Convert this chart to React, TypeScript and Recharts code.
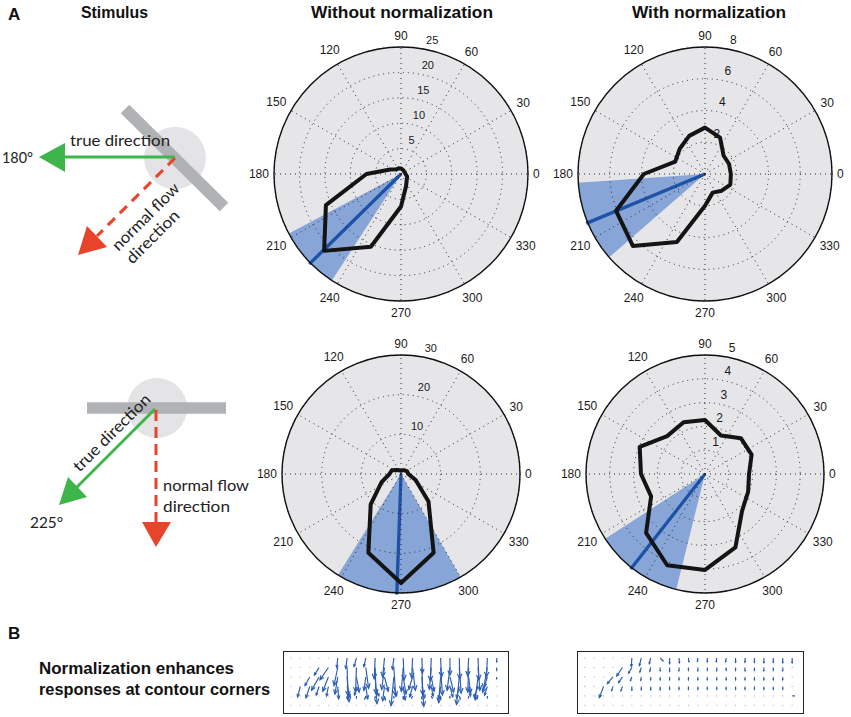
import React from 'react';
import {
  RadarChart, Radar, PolarGrid, PolarAngleAxis, PolarRadiusAxis,
  PieChart, Pie, ScatterChart, Scatter, XAxis, YAxis,
} from 'recharts';

// ---------------- data ----------------
const directions = [0, 22.5, 45, 67.5, 90, 112.5, 135, 157.5, 180, 202.5, 225, 247.5, 270, 292.5, 315, 337.5];
const angleTicks = [0, 30, 60, 90, 120, 150, 180, 210, 240, 270, 300, 330];

// stimulus moving at 180 deg
const resp180Without = [0.9, 0.8, 0.8, 0.9, 1.1, 1.2, 1.3, 2.3, 6.8, 16.0, 21.4, 15.5, 6.4, 2.6, 1.6, 1.3];
const resp180With = [1.63, 1.64, 1.65, 2.48, 2.92, 2.6, 2.25, 2.03, 3.85, 6.06, 6.42, 4.63, 2.0, 1.27, 1.49, 1.73];
// stimulus moving at 225 deg
const resp225Without = [1.85, 1.7, 1.3, 1.0, 0.8, 1.0, 1.4, 2.5, 2.9, 5.3, 10.8, 21.5, 27.5, 21.5, 9.8, 4.0];
const resp225With = [1.85, 2.12, 2.13, 1.75, 2.27, 2.35, 2.25, 2.97, 2.69, 2.45, 3.5, 4.15, 4.03, 3.34, 2.2, 1.96];

const rings180Without = [5, 10, 15, 20, 25];
const rings180With = [2, 4, 6, 8];
const rings225Without = [10, 20, 30];
const rings225With = [1, 2, 3, 4, 5];

// order: 180 without, 180 with, 225 without, 225 with
const meanDirections = [224.5, 202.6, 268, 232];
const spreadStart = [208, 184, 238, 213];
const spreadEnd = [237, 221, 300, 256];

// quiver fields (rows top->bottom, 23 columns); u = rightward, v = downward (grid units)
const quiverWithoutU = [
  [0, 0, 0, 0, 0, -0.1, -0.15, -0.25, -0.2, -0.1, -0.2, -0.15, 0.1, -0.1, 0.05, -0.1, 0.1, 0, 0.05, -0.1, 0.1, -0.1, 0],
  [0, 0, 0, -0.5, -0.9, -0.4, 0.1, -0.1, 0.3, 0.1, -0.3, 0.2, -0.2, 0.3, 0.1, -0.2, 0.2, -0.3, 0.2, -0.1, 0.2, -0.4, 0],
  [0, 0, -0.5, -0.8, -0.6, -0.3, 0.2, 0.3, -0.2, 0.2, 0.4, -0.3, 0.3, -0.4, 0.2, 0.3, -0.2, 0.4, -0.3, 0.2, -0.3, -0.5, 0],
  [0, -0.3, -0.4, -0.3, -0.2, 0.1, 0.3, -0.2, 0.2, 0.4, -0.2, 0.3, 0.2, -0.3, 0.3, 0.2, -0.2, 0.3, -0.3, 0.2, -0.4, -0.3, 0],
  [0, 0, 0, 0, 0, 0, 0.1, 0, -0.1, 0, 0.1, 0, 0, -0.1, 0, 0.1, 0, 0, 0.1, 0, -0.1, 0, 0],
  [0, 0, 0, 0, 0, 0, 0, 0, 0, 0, 0, 0, 0, 0, 0, 0, 0, 0, 0, 0, 0, 0, 0],
];
const quiverWithoutV = [
  [0, 0, 0, 0, 0, 1.0, 1.1, 0.9, 0.9, 2.2, 2.0, 1.2, 2.3, 2.1, 1.6, 2.4, 2.0, 1.8, 2.2, 1.9, 2.3, 2.0, 0.4],
  [0, 0, 0, 0.8, 1.3, 1.9, 3.0, 2.6, 2.2, 2.8, 2.3, 3.0, 2.5, 2.4, 2.9, 2.3, 2.9, 2.4, 2.7, 2.6, 2.4, 2.2, 0.3],
  [0, 0, 0.9, 1.4, 1.5, 1.8, 2.6, 1.6, 1.4, 2.8, 1.5, 3.0, 1.8, 1.3, 3.1, 1.5, 2.7, 1.6, 2.9, 1.7, 2.4, 1.6, 0.2],
  [0, 1.1, 1.2, 0.9, 1.0, 1.3, 1.1, 0.9, 1.3, 1.0, 1.5, 1.0, 1.4, 1.1, 1.2, 1.0, 1.3, 1.1, 1.2, 1.0, 1.1, 0.9, 0.1],
  [0, 0, 0, 0, 0, 0, 0.3, 0.2, 0.3, 0.2, 0.4, 0.2, 0.3, 0.2, 0.3, 0.2, 0.3, 0.2, 0.3, 0.2, 0.3, 0.2, 0],
  [0, 0, 0, 0, 0, 0, 0, 0, 0, 0, 0, 0, 0, 0, 0, 0, 0, 0, 0, 0, 0, 0, 0],
];
const quiverWithU = [
  [0, 0, 0, 0, 0, -0.05, -0.2, -0.15, 0.3, 0, 0.05, 0.05, -0.05, 0, -0.05, -0.05, 0, 0, 0, 0, 0, 0, 0],
  [0, 0, 0, 0, -0.6, -0.35, -0.15, -0.1, 0, 0, 0, 0, 0, 0, 0, 0, 0, 0, 0, 0, 0, 0, 0],
  [0, 0, 0, -0.6, -0.4, -0.15, -0.05, 0, 0, 0, 0, 0, 0, 0, 0, 0, 0, 0, 0, 0, 0, 0, 0],
  [0, 0, -0.45, -0.15, -0.15, 0, 0, 0, 0, 0, 0, 0, 0, 0, 0, 0, 0, 0, 0, 0, 0, 0, 0],
  [0, 0, 0, 0, 0, 0, 0, 0, 0, 0, 0, 0, 0, 0, 0, 0, 0, 0, 0, 0, 0, 0, 0.2],
  [0, 0, 0, 0, 0, 0, 0, 0, 0, 0, 0, 0, 0, 0, 0, 0, 0, 0, 0, 0, 0, 0, 0],
];
const quiverWithV = [
  [0, 0, 0, 0, 0, 0.9, 0.8, 0.6, 0.3, 0.6, 0.5, 0.4, 0.35, 0.4, 0.4, 0.4, 0.45, 0.45, 0.45, 0.5, 0.45, 0.5, 0.5],
  [0, 0, 0, 0, 0.9, 0.6, 0.5, 0.4, 0.35, 0.4, 0.35, 0.3, 0.35, 0.3, 0.35, 0.3, 0.3, 0.35, 0.3, 0.35, 0.3, 0.35, 0.1],
  [0, 0, 0, 0.7, 0.6, 0.4, 0.35, 0.3, 0.3, 0.3, 0.3, 0.3, 0.3, 0.3, 0.3, 0.3, 0.3, 0.3, 0.3, 0.3, 0.3, 0.3, 0],
  [0, 0, 1.2, 0.45, 0.45, 0.4, 0.35, 0.35, 0.35, 0.3, 0.3, 0.3, 0.3, 0.3, 0.3, 0.3, 0.3, 0.3, 0.3, 0.3, 0.3, 0.3, 0],
  [0, 0, 0, 0, 0, 0, 0, 0, 0, 0, 0, 0, 0, 0, 0, 0, 0, 0, 0, 0, 0, 0, 0],
  [0, 0, 0, 0, 0, 0, 0, 0, 0, 0, 0, 0, 0, 0, 0, 0, 0, 0, 0, 0, 0, 0, 0],
];

// ---------------- styling / layout ----------------
const S = 340;
const C = 170;
const HEAD_FONT = "'Liberation Sans Narrow', 'Liberation Sans', Arial, sans-serif";
const LABEL_FONT = "'Liberation Sans', Arial, sans-serif";
const STIM_FONT = "Lato, 'Open Sans', sans-serif";
const INK = '#1a1a1a';

function makeAngleTick(R: number) {
  return (props: any) => {
    const { x, y, payload } = props;
    const dx = x - C;
    const dy = y - C;
    const d = Math.hypot(dx, dy) || 1;
    const ux = dx / d;
    const uy = dy / d;
    const label = String(payload.value);
    const w = label.length * 6.7;
    const off = R + 5 + (Math.abs(ux) * w) / 2 + Math.abs(uy) * 6.5;
    return (
      <text x={C + ux * off} y={C + uy * off} textAnchor="middle" dominantBaseline="central"
        fontSize={12} fontFamily={LABEL_FONT} style={{ fill: INK, stroke: 'none' }}>{label}</text>
    );
  };
}

function makeRadiusTick(fs: number) {
  return (props: any) => {
    const { x, y, payload } = props;
    return (
      <text x={x + 3} y={y - 9} textAnchor="start" dominantBaseline="central"
        fontSize={fs} fontFamily={LABEL_FONT} style={{ fill: INK, stroke: 'none' }}>{payload.value}</text>
    );
  };
}

type PanelProps = {
  left: number; top: number; R: number; values: number[]; rMax: number; rings: number[];
  mean: number; s0: number; s1: number; fs: number;
};

function PolarPanel({ left, top, R, values, rMax, rings, mean, s0, s1, fs }: PanelProps) {
  const rows = directions.map((a, i) => ({ angle: a, r: values[i] }));
  const m = { top: 0, right: 0, bottom: 0, left: 0 };
  return (
    <div style={{ position: 'absolute', left: left - C, top: top - C, width: S, height: S, pointerEvents: 'none' }}>
      <div style={{ position: 'absolute', left: 0, top: 0 }}>
        <PieChart width={S} height={S} margin={m}>
          <Pie data={[{ v: 1 }]} dataKey="v" cx={C} cy={C} innerRadius={0} outerRadius={R}
            startAngle={0} endAngle={360} fill="#e6e6e9" stroke="none" isAnimationActive={false} />
          <Pie data={[{ v: s1 - s0 }]} dataKey="v" cx={C} cy={C} innerRadius={0} outerRadius={R}
            startAngle={s0} endAngle={s1} fill="#88a5d7" stroke="none" isAnimationActive={false} />
          <Pie data={[{ v: 1 }]} dataKey="v" cx={C} cy={C} innerRadius={0} outerRadius={R}
            startAngle={mean - 0.05} endAngle={mean + 0.05} fill="#1d52a6" stroke="#1d52a6"
            strokeWidth={3.2} isAnimationActive={false} />
        </PieChart>
      </div>
      <div style={{ position: 'absolute', left: 0, top: 0 }}>
        <RadarChart width={S} height={S} cx={C} cy={C} outerRadius={R} startAngle={0} endAngle={360}
          data={rows} margin={m}>
          <PolarGrid gridType="circle" stroke="#2a2a2a" strokeDasharray="1 4" strokeWidth={1} />
          <PolarAngleAxis dataKey="angle" type="number" domain={[0, 360]} ticks={angleTicks}
            tickLine={false} axisLineType="circle" axisLine={{ stroke: '#111', strokeWidth: 1.4 }}
            tick={makeAngleTick(R)} />
          <PolarRadiusAxis angle={80} type="number" domain={[0, rMax]} ticks={rings}
            axisLine={false} tickLine={false} stroke="none" tick={makeRadiusTick(fs)} />
          <Radar dataKey="r" stroke="#141414" strokeWidth={4} fill="none" fillOpacity={0}
            dot={false} isAnimationActive={false} strokeLinejoin="round" />
        </RadarChart>
      </div>
    </div>
  );
}

function makeArrow(sx: number, sy: number) {
  return (props: any) => {
    const { cx, cy, payload } = props;
    const ex = cx + payload.u * sx;
    const ey = cy + payload.v * sy;
    const len = Math.hypot(ex - cx, ey - cy);
    if (len < 1.2) return <circle cx={cx} cy={cy} r={0.6} fill="#9eadd0" />;
    const ang = Math.atan2(ey - cy, ex - cx);
    const hl = Math.min(len * 0.3, 5.5);
    const sp = 0.42;
    const h1x = ex - hl * Math.cos(ang - sp);
    const h1y = ey - hl * Math.sin(ang - sp);
    const h2x = ex - hl * Math.cos(ang + sp);
    const h2y = ey - hl * Math.sin(ang + sp);
    return (
      <g stroke="#2c5db3" strokeWidth={1.15} fill="none">
        <line x1={cx} y1={cy} x2={ex} y2={ey} />
        <polyline points={`${h1x},${h1y} ${ex},${ey} ${h2x},${h2y}`} />
      </g>
    );
  };
}

type QuiverProps = { left: number; top: number; w: number; h: number; x0: number; y0: number; gx: number; gy: number; U: number[][]; V: number[][] };

function Quiver({ left, top, w, h, x0, y0, gx, gy, U, V }: QuiverProps) {
  const rows: any[] = [];
  U.forEach((row, j) => row.forEach((u, i) => rows.push({ x: i + 1, y: j + 1, u, v: V[j][i] })));
  const xmin = 1 - x0 / gx;
  const xmax = xmin + w / gx;
  const ymin = 1 - y0 / gy;
  const ymax = ymin + h / gy;
  const sx = w / (xmax - xmin);
  const sy = h / (ymax - ymin);
  return (
    <div style={{ position: 'absolute', left, top, width: w, height: h }}>
      <div style={{ position: 'absolute', left: 0, top: 0 }}>
        <ScatterChart width={w} height={h} margin={{ top: 0, right: 0, bottom: 0, left: 0 }}>
          <XAxis type="number" dataKey="x" domain={[xmin, xmax]} hide allowDataOverflow />
          <YAxis type="number" dataKey="y" domain={[ymin, ymax]} reversed hide width={0} allowDataOverflow />
          <Scatter data={rows} shape={makeArrow(sx, sy)} isAnimationActive={false} />
        </ScatterChart>
      </div>
      <div style={{ position: 'absolute', left: 0, top: 0, width: w, height: h, boxSizing: 'border-box', border: '1.6px solid #252525' }} />
    </div>
  );
}

function Stimulus() {
  const green = '#3db54a';
  const red = '#e8432b';
  return (
    <svg width={851} height={717} style={{ position: 'absolute', left: 0, top: 0 }}>
      {/* headings */}
      <text x={8} y={20} fontFamily={HEAD_FONT} fontWeight="bold" fontSize={17} fill="#111">A</text>
      <text x={81} y={18} fontFamily={HEAD_FONT} fontWeight="bold" fontSize={17} fill="#111" textLength={67} lengthAdjust="spacingAndGlyphs">Stimulus</text>
      <text x={311} y={18} fontFamily={HEAD_FONT} fontWeight="bold" fontSize={17} fill="#111" textLength={182} lengthAdjust="spacingAndGlyphs">Without normalization</text>
      <text x={632} y={18} fontFamily={HEAD_FONT} fontWeight="bold" fontSize={17} fill="#111" textLength={154} lengthAdjust="spacingAndGlyphs">With normalization</text>
      <text x={8} y={639} fontFamily={HEAD_FONT} fontWeight="bold" fontSize={17} fill="#111">B</text>
      <text x={39} y={674} fontFamily={HEAD_FONT} fontWeight="bold" fontSize={17} fill="#111" textLength={195} lengthAdjust="spacingAndGlyphs">Normalization enhances</text>
      <text x={39} y={695} fontFamily={HEAD_FONT} fontWeight="bold" fontSize={17} fill="#111" textLength={231} lengthAdjust="spacingAndGlyphs">responses at contour corners</text>

      {/* top stimulus: bar at 45 deg, true 180, normal flow 225 */}
      <circle cx={175} cy={158} r={31} fill="#e4e4e6" />
      <line x1={125} y1={109} x2={224} y2={207} stroke="#b1b2b6" strokeWidth={12} />
      <line x1={175} y1={157} x2={63} y2={157} stroke={green} strokeWidth={3} />
      <polygon points="39,157 65,143 65,172" fill={green} />
      <line x1={175} y1={158} x2={97} y2={236} stroke={red} strokeWidth={3} strokeDasharray="10 7" />
      <polygon points="78,255 87,226 107,247" fill={red} />
      <text x={120} y={146} textAnchor="middle" fontFamily={STIM_FONT} fontSize={16} fill="#222" textLength={100} lengthAdjust="spacingAndGlyphs">true direction</text>
      <text x={2} y={163} fontFamily={STIM_FONT} fontSize={16} fill="#222" textLength={31} lengthAdjust="spacingAndGlyphs">180°</text>
      <text x={145} y={216} textAnchor="middle" dominantBaseline="central" fontFamily={STIM_FONT} fontSize={16} fill="#222" transform="rotate(-45 145 216)" textLength={88} lengthAdjust="spacingAndGlyphs">normal flow</text>
      <text x={152} y={236} textAnchor="middle" dominantBaseline="central" fontFamily={STIM_FONT} fontSize={16} fill="#222" transform="rotate(-45 152 236)" textLength={68} lengthAdjust="spacingAndGlyphs">direction</text>

      {/* bottom stimulus: horizontal bar, true 225, normal flow 270 */}
      <circle cx={157} cy={408} r={30} fill="#e4e4e6" />
      <line x1={87} y1={408} x2={226} y2={408} stroke="#b1b2b6" strokeWidth={11.5} />
      <line x1={155} y1={409} x2={76} y2={488} stroke={green} strokeWidth={3} />
      <polygon points="59,505 68,477 87,497" fill={green} />
      <line x1={156} y1={410} x2={156} y2={522} stroke={red} strokeWidth={3} strokeDasharray="11 6" />
      <polygon points="142,522 171,522 156,547" fill={red} />
      <text x={111} y={432} textAnchor="middle" dominantBaseline="central" fontFamily={STIM_FONT} fontSize={16} fill="#222" transform="rotate(-45 111 432)" textLength={102} lengthAdjust="spacingAndGlyphs">true direction</text>
      <text x={30} y={528} fontFamily={STIM_FONT} fontSize={16} fill="#222" textLength={33} lengthAdjust="spacingAndGlyphs">225°</text>
      <text x={163} y={491} fontFamily={STIM_FONT} fontSize={16} fill="#222" textLength={86} lengthAdjust="spacingAndGlyphs">normal flow</text>
      <text x={163} y={512} fontFamily={STIM_FONT} fontSize={16} fill="#222" textLength={67} lengthAdjust="spacingAndGlyphs">direction</text>
    </svg>
  );
}

export default function App() {
  return (
    <div style={{ position: 'absolute', left: 0, top: 0, width: 851, height: 717, overflow: 'hidden', background: '#fff' }}>
      <Stimulus />
      <PolarPanel left={401} top={174} R={127} values={resp180Without} rMax={25} rings={rings180Without}
        mean={meanDirections[0]} s0={spreadStart[0]} s1={spreadEnd[0]} fs={11} />
      <PolarPanel left={705} top={174} R={127} values={resp180With} rMax={8} rings={rings180With}
        mean={meanDirections[1]} s0={spreadStart[1]} s1={spreadEnd[1]} fs={12} />
      <PolarPanel left={401} top={474} R={119} values={resp225Without} rMax={30} rings={rings225Without}
        mean={meanDirections[2]} s0={spreadStart[2]} s1={spreadEnd[2]} fs={11} />
      <PolarPanel left={705} top={474} R={119} values={resp225With} rMax={5} rings={rings225With}
        mean={meanDirections[3]} s0={spreadStart[3]} s1={spreadEnd[3]} fs={12} />
      <Quiver left={283} top={651} w={226} h={63} x0={8} y0={7} gx={9.35} gy={9.5} U={quiverWithoutU} V={quiverWithoutV} />
      <Quiver left={577} top={651} w={227} h={63} x0={7.7} y0={7} gx={9.43} gy={9.47} U={quiverWithU} V={quiverWithV} />
    </div>
  );
}
